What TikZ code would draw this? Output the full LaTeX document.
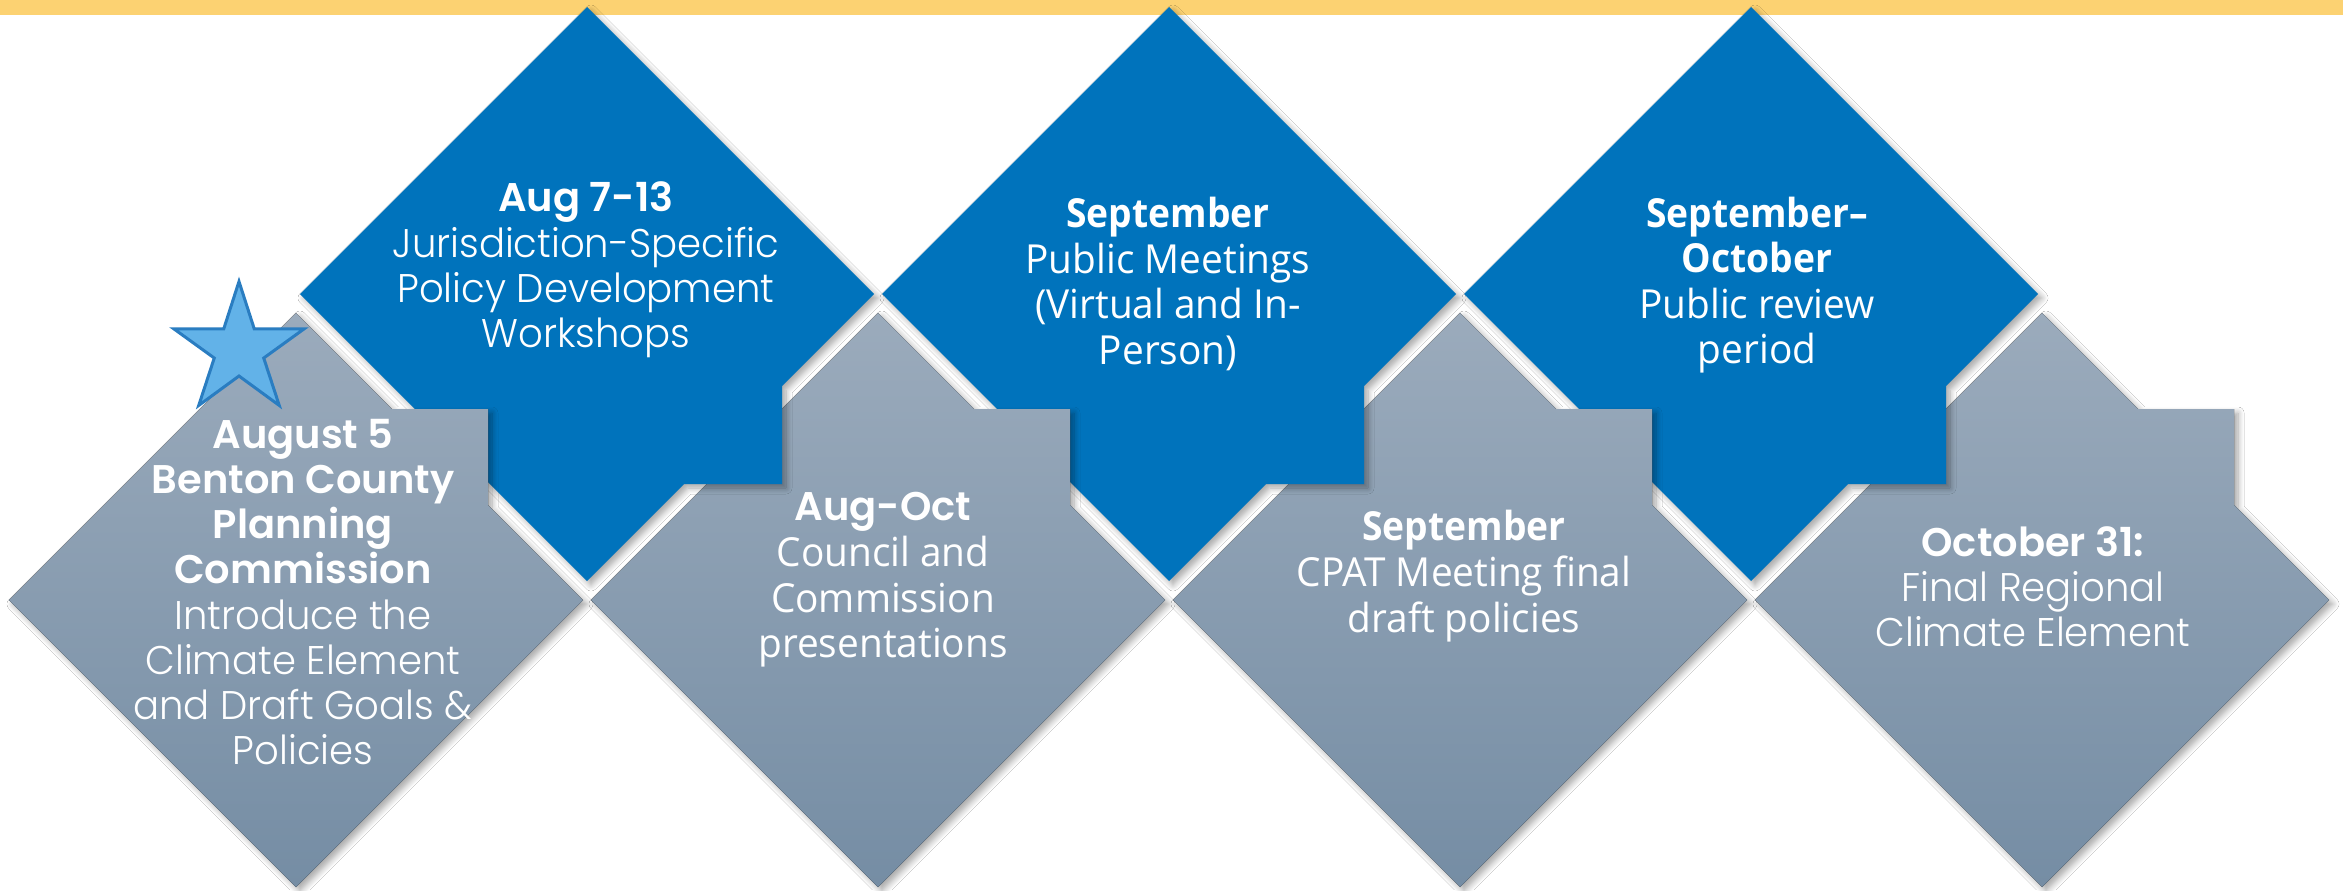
\documentclass[tikz,border=0pt]{standalone}
\usepackage{fontspec}
\usetikzlibrary{shadows.blur}
\newfontfamily\montf{Poppins}[UprightFont=* Light, BoldFont=* SemiBold, UprightFeatures={FakeStretch=0.965}]
\newfontfamily\osans{Open Sans}[UprightFeatures={FakeStretch=0.97}, BoldFeatures={FakeStretch=0.93}]
\definecolor{bandyellow}{HTML}{FCD272}
\definecolor{mainblue}{HTML}{0073BC}
\definecolor{graytop}{HTML}{9BABBC}
\definecolor{graybot}{HTML}{758DA4}
\definecolor{starfill}{HTML}{62B2E8}
\definecolor{starline}{HTML}{2A7DC1}
\tikzset{
  shd/.style={blur shadow={shadow xshift=2pt, shadow yshift=-2pt, shadow blur radius=3pt, shadow opacity=35, shadow blur steps=8}},
  grayfill/.style={shd, top color=graytop, bottom color=graybot},
  bluefill/.style={shd, fill=mainblue},
  starst/.style={fill=starfill, draw=starline, line width=1.5pt, line join=miter},
  txt/.style={text=white, align=center, inner sep=0pt},
  mtxt/.style={txt, font=\montf\fontsize{20}{22.6}\selectfont},
  otxt/.style={txt, font=\osans\fontsize{20}{22.8}\selectfont},
}
\newcommand\grayshape[2]{%
  \fill[grayfill] (#1,#2-287) -- (#1+96,#2-191) -- (#1+192,#2-191) -- (#1+192,#2-95)
    -- (#1+287,#2) -- (#1,#2+287) -- (#1-287,#2) -- cycle;}
\newcommand\blueshape[2]{%
  \fill[bluefill] (#1,#2-287) -- (#1+287,#2) -- (#1+195,#2+92) -- (#1+195,#2+190)
    -- (#1+97,#2+190) -- (#1,#2+287) -- (#1-287,#2) -- cycle;}
\begin{document}
\begin{tikzpicture}[x=0.5pt,y=-0.5pt]
\useasboundingbox (0,0) rectangle (2343,890);
\fill[white] (0,0) rectangle (2343,890);
\fill[bandyellow] (0,0) rectangle (2343,15);
% shapes, right to left
\grayshape{2042}{600}
\blueshape{1751}{294}
\grayshape{1460}{600}
\blueshape{1169}{294}
\grayshape{878}{600}
\blueshape{587}{294}
\grayshape{296}{600}
% star
\draw[starst, shift={(239,350)}] (-90:68.5) -- (-126:26) -- (-162:68.5) -- (-198:26)
  -- (-234:68.5) -- (-270:26) -- (-306:68.5) -- (-342:26) -- (-378:68.5) -- (-414:26) -- cycle;
% texts
\node[mtxt] (t1) at (586,270) {\textbf{Aug 7-13}\\Jurisdiction-Specific\\Policy Development\\Workshops};
\node[otxt] (t2) at (1168,284) {\textbf{September}\\Public Meetings\\(Virtual and In-\\Person)};
\node[otxt] (t3) at (1757,285) {\textbf{September–}\\\textbf{October}\\Public review\\period};
\node[mtxt] (g1) at (303,592) {\textbf{August 5}\\\textbf{Benton County}\\\textbf{Planning}\\\textbf{Commission}\\Introduce the\\Climate Element\\and Draft Goals \&\\Policies};
\node[otxt] (g2) at (883,580) {{\montf\textbf{Aug-Oct}}\\Council and\\Commission\\presentations};
\node[otxt] (g3) at (1464,576) {\textbf{September}\\CPAT Meeting final\\draft policies};
\node[mtxt] (g4) at (2033,587) {\textbf{October 31:}\\Final Regional\\Climate Element};
\end{tikzpicture}
\end{document}
